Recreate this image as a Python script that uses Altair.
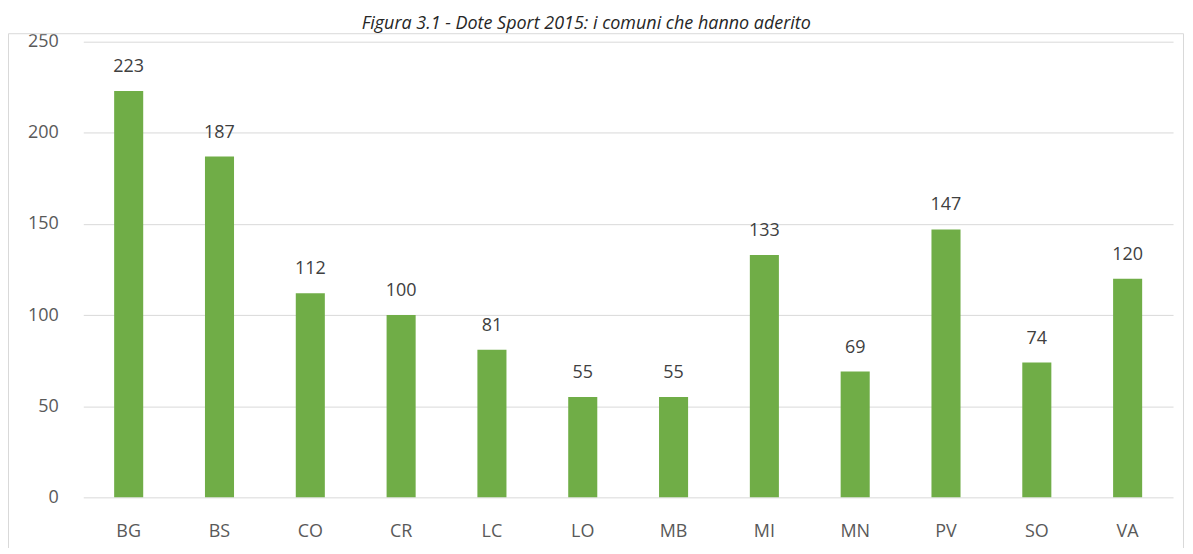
import altair as alt
import pandas as pd

categories = ["BG", "BS", "CO", "CR", "LC", "LO", "MB", "MI", "MN", "PV", "SO", "VA"]
values = [223, 187, 112, 100, 81, 55, 55, 133, 69, 147, 74, 120]
y_ticks = [0, 50, 100, 150, 200, 250]
title_text = "Figura 3.1 - Dote Sport 2015: i comuni che hanno aderito"

df = pd.DataFrame({"prov": categories, "n": values})

W, H = 1093, 457
FONT = "Open Sans"

x_enc = alt.X("prov:N", sort=categories, title=None,
              scale=alt.Scale(paddingInner=0.68, paddingOuter=0.34),
              axis=alt.Axis(labelAngle=0, labelFont=FONT, labelFontSize=18, labelColor="#595959",
                            labelPadding=25, domain=False, ticks=False, grid=False))
y_enc = alt.Y("n:Q", title=None,
              scale=alt.Scale(domain=[0, 250], nice=False),
              axis=alt.Axis(values=y_ticks, labelFont=FONT, labelFontSize=18, labelColor="#595959",
                            labelPadding=25, domain=False, ticks=False, grid=True,
                            gridColor="#d9d9d9", gridWidth=1))

base = alt.Chart(df)
bars = base.mark_bar(color="#70ad47").encode(x=x_enc, y=y_enc)
labels = base.mark_text(font=FONT, fontSize=18, color="#404040", dy=-19, baseline="alphabetic").encode(
    x=alt.X("prov:N", sort=categories), y="n:Q", text="n:Q")

frame = alt.Chart(pd.DataFrame({"a": [0]})).mark_rect(
    fill="transparent", stroke="#d9d9d9", strokeWidth=1).encode(
    x=alt.value(-75), x2=alt.value(W + 10.5), y=alt.value(-8), y2=alt.value(H + 60))

title = alt.Chart(pd.DataFrame({"t": [title_text]})).mark_text(
    font=FONT, fontSize=18, fontStyle="italic", color="#262626",
    align="center", baseline="alphabetic").encode(
    x=alt.value(504.5), y=alt.value(-13), text="t:N")

chart = alt.layer(frame, bars, labels, title).properties(
    width=W, height=H,
    autosize=alt.AutoSizeParams(type="none"),
    padding={"left": 75.5, "top": 33, "right": 12, "bottom": 50},
).configure_view(stroke=None)

chart.save("out.html", embed_options={"renderer": "svg", "actions": False})
